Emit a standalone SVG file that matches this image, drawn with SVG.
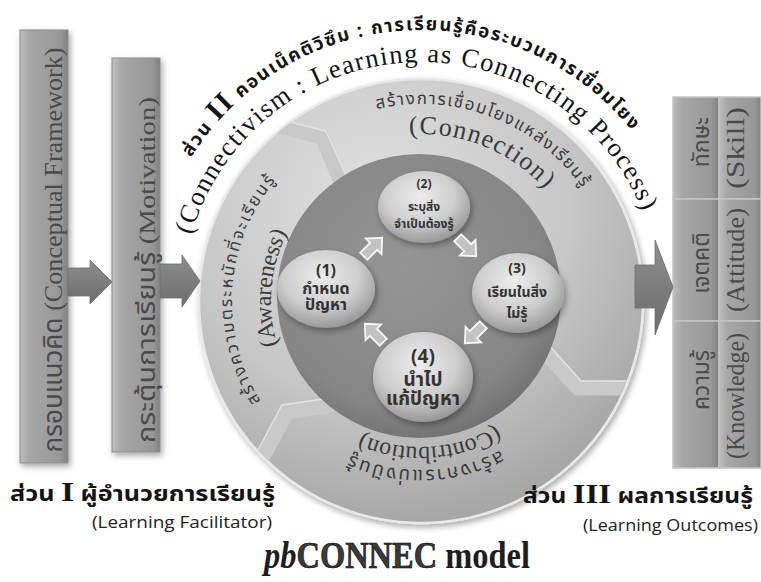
<svg xmlns="http://www.w3.org/2000/svg" width="761" height="582" viewBox="0 0 761 582">
<defs>
<style>
.th{font-family:"Noto Sans Thai","Noto Sans Thai Looped","Noto Serif Thai",Garuda,Loma,Tahoma,"DejaVu Sans",sans-serif}
.tm{font-family:"Liberation Serif","Times New Roman",serif}
.ts{font-family:"Open Sans","Liberation Sans",sans-serif}
.box{fill:url(#boxG);stroke:#8c8c8c;stroke-width:1}
.cell{fill:url(#boxG);stroke:#c4c4c4;stroke-width:1.5}
.boxtxt{fill:#4a4a4a}
.ring{fill:#3a3a3a}
.title{fill:#141414}
.ball{fill:url(#ballG);filter:url(#sh)}
.btxt{fill:#333;font-weight:bold;text-anchor:middle}
.band{fill:none;stroke:#c8c8c8;stroke-width:15;stroke-linejoin:miter}
.bandhi{fill:none;stroke:#e2e2e2;stroke-width:1.5;stroke-linejoin:miter}
.bigarrow{fill:url(#arrG);stroke:#6e6e6e;stroke-width:0.8}
.sarrow{fill:#c2c2c2;stroke:#f6f6f6;stroke-width:1.8;stroke-linejoin:miter}
</style>
<linearGradient id="boxG" x1="0" y1="0" x2="1" y2="0">
<stop offset="0" stop-color="#bdbdbd"/>
<stop offset="0.2" stop-color="#a6a6a6"/>
<stop offset="0.85" stop-color="#979797"/>
<stop offset="1" stop-color="#808080"/>
</linearGradient>
<linearGradient id="arrG" x1="0" y1="0" x2="0" y2="1">
<stop offset="0" stop-color="#8e8e8e"/>
<stop offset="1" stop-color="#6c6c6c"/>
</linearGradient>
<radialGradient id="outerG" cx="0.4" cy="0.28" r="0.8">
<stop offset="0" stop-color="#e0e0e0"/>
<stop offset="0.55" stop-color="#c6c6c6"/>
<stop offset="1" stop-color="#9e9e9e"/>
</radialGradient>
<radialGradient id="darkG" cx="0.45" cy="0.4" r="0.65">
<stop offset="0" stop-color="#959595"/>
<stop offset="0.75" stop-color="#868686"/>
<stop offset="1" stop-color="#6c6c6c"/>
</radialGradient>
<radialGradient id="ballG" cx="0.45" cy="0.35" r="0.7">
<stop offset="0" stop-color="#ececec"/>
<stop offset="0.55" stop-color="#cdcdcd"/>
<stop offset="1" stop-color="#8e8e8e"/>
</radialGradient>
<filter id="sh" x="-20%" y="-20%" width="140%" height="140%">
<feDropShadow dx="2" dy="3" stdDeviation="3" flood-color="#000" flood-opacity="0.35"/>
</filter>
<clipPath id="outerClip"><circle cx="421" cy="301" r="221"/></clipPath>
<path id="pT1" d="M191.2,157.4 A271,271 0 0 1 631.6,130.5"/>
<path id="pT2" d="M191.3,235.1 A239,239 0 0 1 642.6,211.5"/>
<path id="pTop" d="M376.7,109.0 A197,197 0 0 1 582.4,188.0"/>
<path id="pConn" d="M409.4,134.4 A167,167 0 0 1 545.1,189.3"/>
<path id="pLeft" d="M260.7,401.2 A189,189 0 0 1 276.2,179.5"/>
<path id="pAw" d="M277.6,344.9 A150,150 0 0 1 287.3,232.9"/>
<path id="pContr" d="M496.2,426.1 A146,146 0 0 1 361.6,434.4"/>
<path id="pBot" d="M500.3,450.2 A169,169 0 0 1 349.6,454.2"/>
<polygon id="sarrowShape" points="-13,-5 1,-5 1,-11 13,0 1,11 1,5 -13,5"/>
</defs>

<rect width="761" height="582" fill="#fff"/>

<g id="box-conceptual">
<rect class="box" x="20" y="30" width="48" height="433" filter="url(#sh)"/>
<text class="boxtxt" transform="translate(62,250) rotate(-90)" text-anchor="middle" font-size="26" textLength="405" lengthAdjust="spacingAndGlyphs"><tspan class="th">กรอบแนวคิด </tspan><tspan class="tm">(Conceptual Framework)</tspan></text>
</g>

<g id="box-motivation">
<rect class="box" x="112" y="58" width="48" height="394" filter="url(#sh)"/>
<text class="boxtxt" transform="translate(155,270) rotate(-90)" text-anchor="middle" font-size="24" textLength="346" lengthAdjust="spacingAndGlyphs"><tspan class="th">กระตุ้นการเรียนรู้ </tspan><tspan class="tm">(Motivation)</tspan></text>
</g>

<g id="cycle">
<circle cx="421" cy="301" r="222" fill="url(#outerG)" stroke="#e8e8e8" stroke-width="2.5" filter="url(#sh)"/>
<g clip-path="url(#outerClip)">
<polyline class="band" points="266,123 322,137 342,184"/>
<polyline class="bandhi" points="266,116 326,131 348,180"/>
<polyline class="band" points="541,348 578,388 652,388"/>
<polyline class="bandhi" points="547,343 581,381 652,381"/>
<polyline class="band" points="337,404 287,412 257,468"/>
<polyline class="bandhi" points="337,397 282,405 250,465"/>
</g>
<circle cx="419" cy="296" r="142" fill="url(#darkG)"/>
<text class="th ring" font-size="17"><textPath href="#pTop" textLength="233" lengthAdjust="spacing">สร้างการเชื่อมโยงแหล่งเรียนรู้</textPath></text>
<text class="tm ring" font-size="26"><textPath href="#pConn" textLength="151" lengthAdjust="spacing">(Connection)</textPath></text>
<text class="th ring" font-size="17"><textPath href="#pLeft" textLength="236" lengthAdjust="spacing">สร้างความตระหนักที่จะเรียนรู้</textPath></text>
<text class="tm ring" font-size="24"><textPath href="#pAw" textLength="115" lengthAdjust="spacing">(Awareness)</textPath></text>
<text class="tm ring" font-size="24"><textPath href="#pContr" textLength="140" lengthAdjust="spacing">(Contribution)</textPath></text>
<text class="th ring" font-size="19"><textPath href="#pBot" textLength="155" lengthAdjust="spacing">สร้างการแบ่งปันรู้</textPath></text>
</g>

<g id="step1">
<ellipse class="ball" cx="326" cy="289" rx="49" ry="39"/>
<text class="btxt th" font-size="16"><tspan x="326" y="276">(1)</tspan><tspan x="326" y="294">กำหนด</tspan><tspan x="326" y="310">ปัญหา</tspan></text>
</g>
<g id="step2">
<ellipse class="ball" cx="424" cy="207" rx="46" ry="36"/>
<text class="btxt th" font-size="12"><tspan x="424" y="188">(2)</tspan><tspan x="424" y="211">ระบุสิ่ง</tspan><tspan x="424" y="228">จำเป็นต้องรู้</tspan></text>
</g>
<g id="step3">
<ellipse class="ball" cx="518" cy="293" rx="46" ry="40"/>
<text class="btxt th" font-size="14"><tspan x="517" y="273">(3)</tspan><tspan x="517" y="297">เรียนในสิ่ง</tspan><tspan x="517" y="318">ไม่รู้</tspan></text>
</g>
<g id="step4">
<ellipse class="ball" cx="423" cy="377" rx="50" ry="45"/>
<text class="btxt th" font-size="19"><tspan x="423" y="363">(4)</tspan><tspan x="423" y="386">นำไป</tspan><tspan x="423" y="405">แก้ปัญหา</tspan></text>
</g>

<g id="outcomes">
<g id="cell-skill">
<rect class="cell" x="673" y="97" width="46" height="102"/>
<rect class="cell" x="719" y="97" width="42" height="102"/>
<text class="boxtxt th" transform="translate(709,142) rotate(-90)" text-anchor="middle" font-size="23">ทักษะ</text>
<text class="boxtxt tm" transform="translate(744,148) rotate(-90)" text-anchor="middle" font-size="25" textLength="82" lengthAdjust="spacingAndGlyphs">(Skill)</text>
</g>
<g id="cell-attitude">
<rect class="cell" x="673" y="199" width="46" height="122"/>
<rect class="cell" x="719" y="199" width="42" height="122"/>
<text class="boxtxt th" transform="translate(709,263) rotate(-90)" text-anchor="middle" font-size="23">เจตคติ</text>
<text class="boxtxt tm" transform="translate(744,260) rotate(-90)" text-anchor="middle" font-size="25" textLength="104" lengthAdjust="spacingAndGlyphs">(Attitude)</text>
</g>
<g id="cell-knowledge">
<rect class="cell" x="673" y="321" width="46" height="147"/>
<rect class="cell" x="719" y="321" width="42" height="147"/>
<text class="boxtxt th" transform="translate(709,380) rotate(-90)" text-anchor="middle" font-size="23">ความรู้</text>
<text class="boxtxt tm" transform="translate(744,396) rotate(-90)" text-anchor="middle" font-size="25" textLength="126" lengthAdjust="spacingAndGlyphs">(Knowledge)</text>
</g>
</g>

<g id="connectors">
<polygon class="bigarrow" points="68,268 90,268 90,260 112,282 90,304 90,296 68,296"/>
<polygon class="bigarrow" points="160,264 182,264 182,255 200,281 182,307 182,298 160,298"/>
<polygon class="bigarrow" points="635,265 655,265 655,240 673,287 655,335 655,308 635,308"/>
<use href="#sarrowShape" class="sarrow" transform="translate(373,247) rotate(-45)"/>
<use href="#sarrowShape" class="sarrow" transform="translate(467,247) rotate(45)"/>
<use href="#sarrowShape" class="sarrow" transform="translate(474,334) rotate(135)"/>
<use href="#sarrowShape" class="sarrow" transform="translate(374,333) rotate(-135)"/>
</g>

<g id="titles">
<text class="th title" font-size="18.5" font-weight="bold"><textPath href="#pT1" textLength="515" lengthAdjust="spacing">ส่วน <tspan class="tm" font-size="29">II</tspan> คอนเน็คติวิซึม : การเรียนรู้คือระบวนการเชื่อมโยง</textPath></text>
<text class="tm title" font-size="26.5"><textPath href="#pT2" textLength="592" lengthAdjust="spacing">(Connectivism : Learning as Connecting Process)</textPath></text>
</g>

<g id="labels">
<text class="th title" x="10" y="501" font-size="21" font-weight="bold" textLength="265" lengthAdjust="spacingAndGlyphs">ส่วน <tspan class="tm" font-size="28">I</tspan> ผู้อำนวยการเรียนรู้</text>
<text class="ts" x="92" y="528" font-size="16" fill="#222" textLength="180" lengthAdjust="spacingAndGlyphs">(Learning Facilitator)</text>
<text class="th title" x="523" y="503" font-size="21" font-weight="bold" textLength="230" lengthAdjust="spacingAndGlyphs">ส่วน <tspan class="tm" font-size="28">III</tspan> ผลการเรียนรู้</text>
<text class="ts" x="583" y="531" font-size="16" fill="#222" textLength="175" lengthAdjust="spacingAndGlyphs">(Learning Outcomes)</text>
<text class="tm" x="397" y="568" text-anchor="middle" font-size="38" font-weight="bold" fill="#1e1e1e" textLength="266" lengthAdjust="spacingAndGlyphs"><tspan font-style="italic">pb</tspan><tspan stroke="#000" stroke-width="0.6" fill="#3a3a3a">CONNEC</tspan> model</text>
</g>
</svg>
